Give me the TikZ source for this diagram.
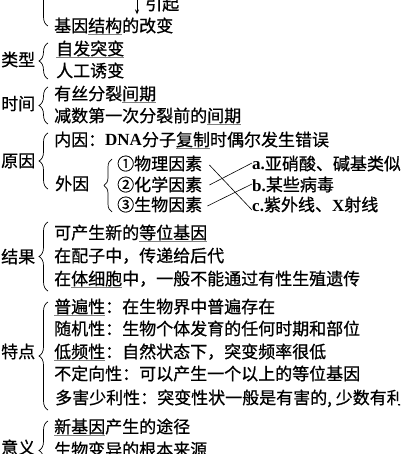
\documentclass[tikz,border=0pt]{standalone}
\usepackage{fontspec}
\setmainfont{Noto Sans CJK SC}[FakeBold=0.7]
\newfontfamily\latf{Liberation Serif}
\usetikzlibrary{decorations.pathreplacing,calc,arrows.meta}
\newsavebox\ulbox
\newcommand\ul[1]{\sbox\ulbox{#1}\rlap{\color{gray}\rule[-3pt]{\wd\ulbox}{0.8pt}}\usebox\ulbox}
\newcommand\lt[1]{{\latf\bfseries #1}}
\tikzset{
  txt/.style={anchor=base west, inner sep=0pt, font=\fontsize{17}{20}\selectfont},
  br/.style={decorate, decoration={brace, amplitude=9pt}, line width=0.7pt},
  ibr/.style={decorate, decoration={brace, amplitude=8pt}, line width=0.7pt},
  link/.style={line width=0.6pt}
}
\begin{document}
\begin{tikzpicture}[x=1pt,y=-1pt]
\useasboundingbox (0,0) rectangle (400,454);
\clip (0,0) rectangle (400,454);
% top
\node[txt] (yinqi) at (145,10) {引起};
\node[txt] (gene) at (54,32) {基因\ul{结构}的改变};
\coordinate (atop) at (137,-4);
\draw[line width=0.7pt,-{Stealth[length=5pt,width=4pt]}] (atop) -- ($(atop |- gene.north)+(0,-3)$);
\draw[br] (48,26) -- (48,-50);
% 类型
\node[txt] (leixing) at (1,66) {类型};
\node[txt] (zifa) at (56,55) {\ul{自发突变}};
\node[txt] (rengong) at (56,77) {人工诱变};
\draw[br] (48,79) -- (48,43);
% 时间
\node[txt] (shijian) at (1,110) {时间};
\node[txt] (yousi) at (54,100) {有丝分裂\ul{间期}};
\node[txt] (jianshu) at (54,122) {减数第一次分裂前的\ul{间期}};
\draw[br] (48,124) -- (48,87);
% 原因
\node[txt] (yuanyin) at (1,167) {原因};
\node[txt] (neiyin) at (54,146) {内因：\lt{DNA}分子\ul{复制}时偶尔发生错误};
\node[txt] (waiyin) at (55,190) {外因};
\draw[br] (48,189) -- (48,133);
\node[txt] (p1) at (117,170) {①物理因素};
\node[txt] (p2) at (117,191) {②化学因素};
\node[txt] (p3) at (117,211) {③生物因素};
\draw[ibr] (112,212) -- (112,159);
\node[txt] (ca) at (252,170) {\lt{a.}亚硝酸、碱基类似物};
\node[txt] (cb) at (252,191) {\lt{b.}某些病毒};
\node[txt] (cc) at (252,211) {\lt{c.}紫外线、\lt{X}射线};
\draw[link] ($(p1.base east)+(7,-5)$) -- ($(cc.base west)+(0,-1)$);
\draw[link] ($(p2.base east)+(7,-6)$) -- ($(ca.base west)+(0,-7)$);
\draw[link] ($(p3.base east)+(5,-5)$) -- ($(cb.base west)+(0,-7)$);
% 结果
\node[txt] (jieguo) at (1,263) {结果};
\node[txt] (r1) at (54,239) {可产生新的\ul{等位基因}};
\node[txt] (r2) at (54,262) {在配子中，传递给后代};
\node[txt] (r3) at (54,285) {在\ul{体细胞}中，一般不能通过有性生殖遗传};
\draw[br] (48,291) -- (48,222);
% 特点
\node[txt] (tedian) at (1,358) {特点};
\node[txt] (t1) at (54,313) {\ul{普遍性}：在生物界中普遍存在};
\node[txt] (t2) at (54,335) {随机性：生物个体发育的任何时期和部位};
\node[txt] (t3) at (54,358) {\ul{低频性}：自然状态下，突变频率很低};
\node[txt] (t4) at (54,380) {不定向性：可以产生一个以上的等位基因};
\node[txt] (t5) at (55,404) {多害少利性：突变性状一般是有害的, 少数有利};
\draw[br] (48,410) -- (48,302);
% 意义
\node[txt] (yiyi) at (1,454) {意义};
\node[txt] (m1) at (54,433) {\ul{新基因}产生的途径};
\node[txt] (m2) at (54,456) {生物变异的根本来源};
\draw[br] (48,480) -- (48,421);
\end{tikzpicture}
\end{document}
